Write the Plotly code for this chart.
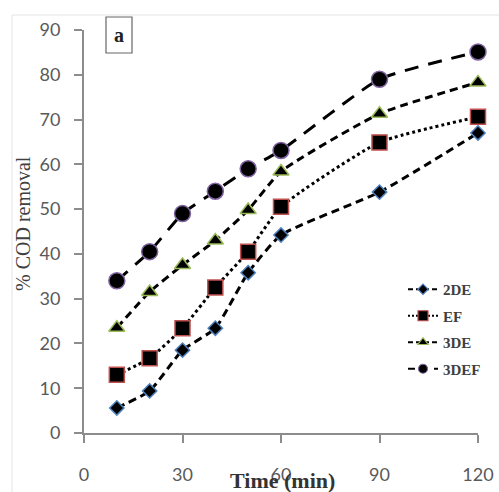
import plotly.graph_objects as go

# Reaction time (min)
time_min = [10, 20, 30, 40, 50, 60, 90, 120]

# % COD removal for each process
cod_2de = [5.6, 9.4, 18.5, 23.4, 35.8, 44.2, 53.8, 67.0]
cod_ef = [13.0, 16.7, 23.4, 32.5, 40.5, 50.5, 64.9, 70.6]
cod_3de = [23.5, 31.5, 37.5, 43.0, 49.8, 58.4, 71.3, 78.3]
cod_3def = [34.0, 40.5, 49.0, 54.0, 59.0, 63.1, 79.0, 85.1]

series_names = ["2DE", "EF", "3DE", "3DEF"]

W, H = 499, 492
ML, MR, MT, MB = 84, 21, 30, 59

serif = "Liberation Serif, DejaVu Serif, serif"
sans = "Lato, Carlito, Liberation Sans, sans-serif"

styles = [
    dict(symbol="diamond", size=11, lsize=8, edge="#4F81BD", dash="8px,5px", ldash="5px,3px"),
    dict(symbol="square", size=15, lsize=10, edge="#C0504D", dash="3px,3px", ldash="2px,2px"),
    dict(symbol="triangle-up", size=14, lsize=9, edge="#9BBB59", dash="8px,5px", ldash="5px,3px"),
    dict(symbol="circle", size=16, lsize=9, edge="#8064A2", dash="14px,10px", ldash="7px,6px"),
]

fig = go.Figure()
for name, vals, st in zip(series_names, [cod_2de, cod_ef, cod_3de, cod_3def], styles):
    fig.add_trace(go.Scatter(
        x=time_min, y=vals, name=name, mode="lines+markers",
        legendgroup=name, showlegend=False, cliponaxis=False,
        line=dict(color="black", width=3, dash=st["dash"], shape="spline", smoothing=0.5),
        marker=dict(symbol=st["symbol"], size=st["size"], color="black",
                    line=dict(color=st["edge"], width=1.5)),
    ))
    # legend entry with smaller key symbol
    fig.add_trace(go.Scatter(
        x=[None], y=[None], name=name, mode="lines+markers",
        legendgroup=name, showlegend=True,
        line=dict(color="black", width=2, dash=st["ldash"]),
        marker=dict(symbol=st["symbol"], size=st["lsize"], color="black",
                    line=dict(color=st["edge"], width=1.2)),
    ))

axis_line = "#8C8C8C"
fig.update_xaxes(
    range=[0, 120], tickvals=[0, 30, 60, 90, 120], automargin=False,
    showline=True, linecolor=axis_line, linewidth=2,
    ticks="outside", ticklen=8, tickwidth=1.5, tickcolor=axis_line,
    showgrid=False, zeroline=False, ticklabelstandoff=16,
    tickfont=dict(family=sans, size=18, color="#595959"),
)
fig.update_yaxes(
    range=[0, 90], dtick=10, automargin=False,
    showline=True, linecolor=axis_line, linewidth=2,
    ticks="outside", ticklen=8, tickwidth=1.5, tickcolor=axis_line,
    showgrid=False, zeroline=False, ticklabelstandoff=10,
    tickfont=dict(family=sans, size=18, color="#595959"),
)

pw = W - ML - MR
ph = H - MT - MB

def px_x(p):
    return (p - ML) / pw

def px_y(p):
    return (H - MB - p) / ph

annotations = [
    dict(text="% COD removal", x=px_x(23), y=px_y(224), xref="paper", yref="paper",
         textangle=-90, showarrow=False, xanchor="center", yanchor="middle",
         font=dict(family=serif, size=20, color="#404040")),
    dict(text="<b>Time (min)</b>", x=px_x(282), y=px_y(480), xref="paper", yref="paper",
         showarrow=False, xanchor="center", yanchor="middle",
         font=dict(family=serif, size=22, color="#333333")),
    dict(text="<b>a</b>", x=px_x(119), y=px_y(35), xref="paper", yref="paper",
         showarrow=False, xanchor="center", yanchor="middle",
         font=dict(family=serif, size=20, color="#222222")),
]

shapes = [
    # outer chart-area frame (faint)
    dict(type="line", xref="paper", yref="paper",
         x0=px_x(12), x1=px_x(W), y0=px_y(15), y1=px_y(15),
         line=dict(color="#E4E4E4", width=1)),
    dict(type="line", xref="paper", yref="paper",
         x0=px_x(12), x1=px_x(12), y0=px_y(15), y1=px_y(H),
         line=dict(color="#E4E4E4", width=1)),
    # box around panel letter
    dict(type="rect", xref="paper", yref="paper",
         x0=px_x(106), x1=px_x(132), y0=px_y(53), y1=px_y(17),
         line=dict(color="#666666", width=1.2), fillcolor="white"),
]

fig.update_layout(
    width=W, height=H,
    margin=dict(l=ML, r=MR, t=MT, b=MB, autoexpand=False),
    plot_bgcolor="white", paper_bgcolor="white",
    showlegend=True,
    legend=dict(
        x=px_x(403), y=px_y(273), xanchor="left", yanchor="top",
        bgcolor="rgba(0,0,0,0)", traceorder="grouped", tracegroupgap=4,
        font=dict(family=serif, size=15, color="#404040", weight="bold"),
        itemsizing="trace",
    ),
    annotations=annotations,
    shapes=shapes,
)

fig.write_html("out.html")
